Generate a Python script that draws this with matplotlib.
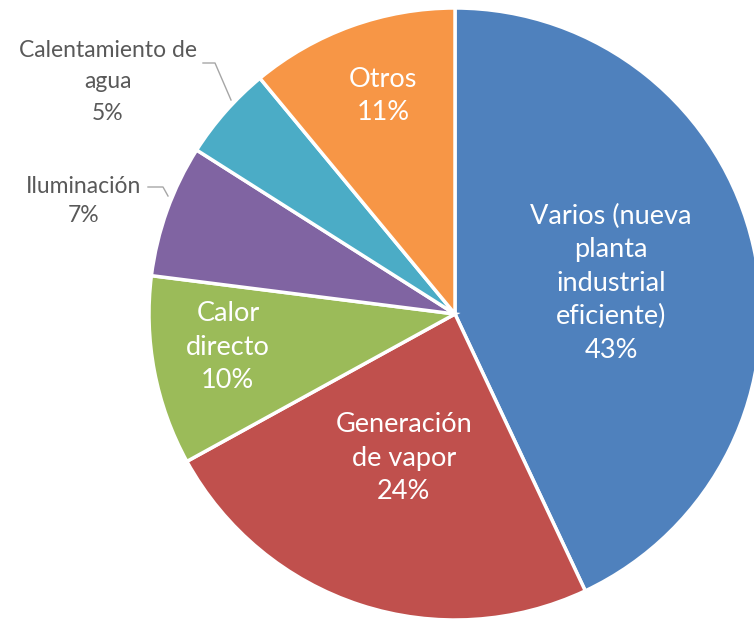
import matplotlib.pyplot as plt
import numpy as np

plt.rcParams['font.family'] = ['Lato', 'DejaVu Sans']

labels = ['Varios (nueva\nplanta\nindustrial\neficiente)', 'Generación\nde vapor', 'Calor\ndirecto',
          'Iluminación', 'Calentamiento de\nagua', 'Otros']
values = [43, 24, 10, 7, 5, 11]
colors = ['#4F81BD', '#C0504D', '#9BBB59', '#8064A2', '#4BACC6', '#F79646']

W, H = 754, 621
cx, cy, R = 455, 307, 306

fig = plt.figure(figsize=(W / 100, H / 100), dpi=100)
ax = fig.add_axes([0, 0, 1, 1])

wedges, _ = ax.pie(values, colors=colors, startangle=90, counterclock=False,
                   radius=R, center=(cx, cy),
                   wedgeprops=dict(edgecolor='white', linewidth=2.5))
ax.set_xlim(0, W)
ax.set_ylim(0, H)
ax.set_aspect('equal')
ax.axis('off')

# inside labels (distance as fraction of radius, small angle tweak)
inside = {0: (0.52, -1.5), 1: (0.50, -1.5), 2: (0.75, -2.5), 5: (0.75, -1.5)}
for i, w in enumerate(wedges):
    if i not in inside:
        continue
    d, tweak = inside[i]
    mid = np.deg2rad((w.theta1 + w.theta2) / 2 + tweak)
    r = d * R
    ax.text(cx + r * np.cos(mid), cy + r * np.sin(mid), f'{labels[i]}\n{values[i]}%',
            color='white', ha='center', va='center', fontsize=19.5, linespacing=1.42)

# outside labels with leader lines
ax.text(108, H - 82, f'{labels[4]}\n{values[4]}%', color='#595959', ha='center', va='center',
        fontsize=16.5, linespacing=1.6)
ax.plot([203, 215, 231], [H - 63, H - 63, H - 100], color='#A6A6A6', lw=1)
ax.text(84, H - 201, f'{labels[3]}\n{values[3]}%', color='#595959', ha='center', va='center',
        fontsize=16.5, linespacing=1.45)
ax.plot([148, 163, 168], [H - 187, H - 187, H - 196], color='#A6A6A6', lw=1)

plt.savefig('out.png', dpi=100)
